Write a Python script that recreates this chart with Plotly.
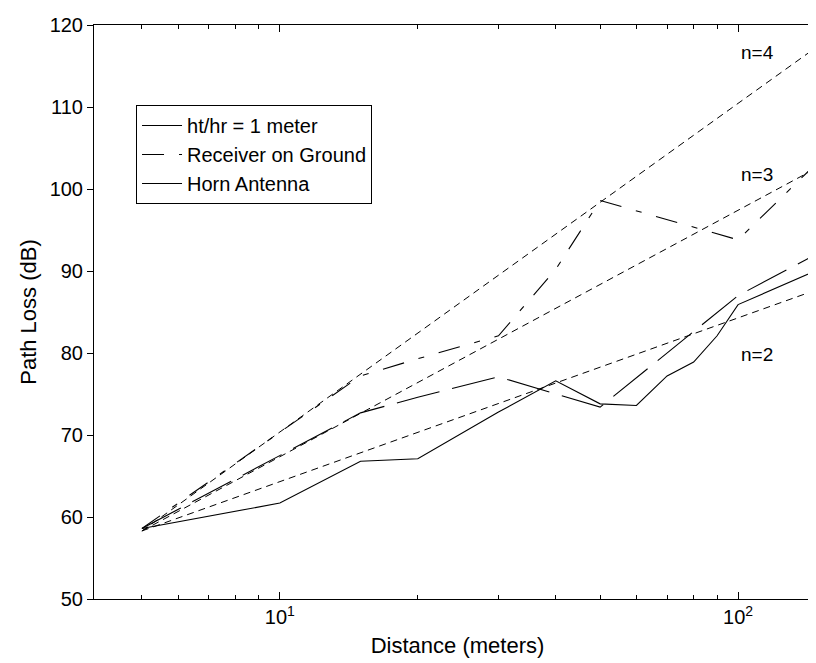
import math
import plotly.graph_objects as go

# ---------------- data ----------------
dist_ht = [5, 10, 15, 20, 30, 40, 50, 60, 70, 80, 90, 100, 150]
pl_ht = [58.6, 61.7, 66.8, 67.1, 72.8, 76.6, 73.8, 73.6, 77.2, 78.9, 82.1, 85.9, 90.2]

dist_ground = [5, 15, 20, 30, 40, 50, 100, 150]
pl_ground = [58.6, 77.2, 79.3, 82.1, 90.2, 98.6, 93.8, 103.4]

dist_horn = [5, 15, 20, 30, 40, 50, 100, 150]
pl_horn = [58.6, 72.7, 74.6, 77.1, 75.0, 73.4, 87.0, 92.2]

dist_ref = [5, 150]
pl_n2 = [58.3, 87.8]
pl_n3 = [58.3, 102.7]
pl_n4 = [58.3, 117.5]

n_labels = ["n=4", "n=3", "n=2"]
n_label_x = [110, 110, 110]
n_label_y = [116.7, 101.8, 79.8]

y_ticks = [50, 60, 70, 80, 90, 100, 110, 120]
x_ticks = [10, 100]
x_ticktext = ["10<sup>1</sup>", "10<sup>2</sup>"]

FONT = "Liberation Sans, Arial, Helvetica, sans-serif"

fig = go.Figure()

# theoretical reference lines
for yv in (pl_n4, pl_n3, pl_n2):
    fig.add_trace(go.Scatter(x=dist_ref, y=yv, mode="lines", showlegend=False,
                             line=dict(color="black", width=1, dash="7px,5px")))

fig.add_trace(go.Scatter(x=dist_ht, y=pl_ht, mode="lines", name="ht/hr = 1 meter",
                         line=dict(color="black", width=1.1)))
fig.add_trace(go.Scatter(x=dist_ground, y=pl_ground, mode="lines", name="Receiver on Ground",
                         line=dict(color="black", width=1.1, dash="22px,15px,6px,15px")))
fig.add_trace(go.Scatter(x=dist_horn, y=pl_horn, mode="lines", name="Horn Antenna",
                         line=dict(color="black", width=1.1, dash="44px,13px")))

for t, xv, yv in zip(n_labels, n_label_x, n_label_y):
    fig.add_annotation(x=math.log10(xv), y=yv, text=t, showarrow=False,
                       xref="x", yref="y", font=dict(size=19, color="black", family=FONT))

fig.update_layout(
    width=816, height=663,
    margin=dict(l=86, r=3, t=17, b=72),
    paper_bgcolor="white", plot_bgcolor="white",
    font=dict(family=FONT, color="black", size=20),
    legend=dict(x=0.0578, y=0.8606, xanchor="left", yanchor="top",
                bordercolor="black", borderwidth=1, bgcolor="white",
                font=dict(size=20, family=FONT),
                itemwidth=40),
)

fig.update_xaxes(
    type="log", range=[math.log10(3.93), math.log10(151.7)],
    tickvals=x_ticks, ticktext=x_ticktext,
    ticks="inside", ticklen=7, tickcolor="black",
    minor=dict(ticks="inside", ticklen=4, tickcolor="black",
               tickvals=[5, 6, 7, 8, 9, 20, 30, 40, 50, 60, 70, 80, 90]),
    showline=True, linecolor="black", linewidth=1, mirror="ticks",
    showgrid=False, zeroline=False,
    tickfont=dict(size=20),
    title=dict(text="Distance (meters)", font=dict(size=22), standoff=10),
)
fig.update_yaxes(
    range=[50, 120], tickvals=y_ticks,
    ticks="outside", ticklen=6, tickcolor="black",
    showline=True, linecolor="black", linewidth=1, mirror=False,
    showgrid=False, zeroline=False,
    tickfont=dict(size=20),
    title=dict(text="Path Loss (dB)", font=dict(size=22), standoff=6),
)

fig.write_html("out.html")
